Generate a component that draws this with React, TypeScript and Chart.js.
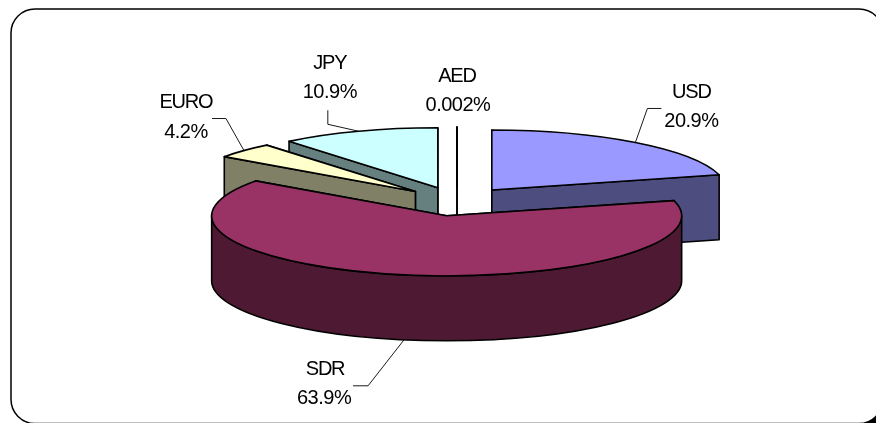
import React, { useEffect, useRef } from "react";
import { Chart, registerables } from "chart.js";

Chart.register(...registerables);

const categories = ["USD", "SDR", "EURO", "JPY", "AED"];
const shares = [20.9, 63.9, 4.2, 10.9, 0.002];
const topColors = ["#9999FF", "#993366", "#FFFFCC", "#CCFFFF", "#FFFFFF"];
const sideColors = ["#4D4D80", "#4D1933", "#808066", "#668080", "#808080"];

// Look of the tilted, exploded pie
const TILT = 0.2553;
const EXPLODE = 57;
const DEPTH = 65;
const RADIUS = 235;
const PAINT_ORDER = [3, 2, 4, 0, 1];
const FONT = '20px "Liberation Sans", Arial, sans-serif';

// label placement relative to each slice's rim mid-point
const LABEL_LAYOUT: Record<string, any> = {
  USD: { onSide: false, leader: [[12, -34], [26, -34]], name: [56, -50], value: [56, -21] },
  SDR: { onSide: true, leader: [[-36, 46], [-51, 46]], name: [-79, 30], value: [-80, 59] },
  EURO: { onSide: false, leader: [[-18, -32], [-32, -32]], name: [-58, -48], value: [-58, -18] },
  JPY: { onSide: false, leader: [[-31, -7], [-31, -21]], name: [-29, -68], value: [-29, -39] },
  AED: { onSide: false, leader: null, name: [0, -50], value: [1, -21] },
};

const pie3d = {
  id: "pie3d",
  beforeDraw(chart: any) {
    const ctx = chart.ctx;
    ctx.save();
    // the frame runs past the right and bottom edges of the picture
    ctx.fillStyle = "#000000";
    ctx.fillRect(858, 410, 18, 13);
    ctx.beginPath();
    ctx.roundRect(11, 9, 872, 414.5, 24);
    ctx.fillStyle = "#FFFFFF";
    ctx.fill();
    ctx.strokeStyle = "#000000";
    ctx.lineWidth = 1.5;
    ctx.stroke();
    ctx.restore();
  },
  beforeDatasetsDraw(chart: any) {
    const ctx = chart.ctx;
    const arcs = chart.getDatasetMeta(0).data;
    const geom = arcs.map((arc: any) => {
      const mid = (arc.startAngle + arc.endAngle) / 2;
      return {
        cx: arc.x + Math.cos(mid) * EXPLODE,
        cy: arc.y + Math.sin(mid) * EXPLODE * TILT,
        rx: arc.outerRadius,
        ry: arc.outerRadius * TILT,
        a0: arc.startAngle,
        a1: arc.endAngle,
        mid,
      };
    });
    const rim = (g: any, a: number) => [g.cx + Math.cos(a) * g.rx, g.cy + Math.sin(a) * g.ry];

    ctx.save();
    ctx.lineJoin = "round";
    ctx.strokeStyle = "#000000";
    ctx.lineWidth = 1.6;
    const paint = (fill: string) => {
      ctx.fillStyle = fill;
      ctx.fill();
      ctx.stroke();
    };

    for (const i of PAINT_ORDER) {
      const g = geom[i];
      const side = sideColors[i];
      // radial cut faces: those turned away from the viewer go first
      const faces = [
        { a: g.a0, front: Math.cos(g.a0) < 0 },
        { a: g.a1, front: Math.cos(g.a1) > 0 },
      ].sort((p, q) => Number(p.front) - Number(q.front));
      for (const f of faces) {
        const [px, py] = rim(g, f.a);
        ctx.beginPath();
        ctx.moveTo(g.cx, g.cy);
        ctx.lineTo(px, py);
        ctx.lineTo(px, py + DEPTH);
        ctx.lineTo(g.cx, g.cy + DEPTH);
        ctx.closePath();
        paint(side);
      }
      // outer wall, front half of the ellipse only
      const twoPi = Math.PI * 2;
      for (const k of [0, 1]) {
        const lo = Math.max(g.a0, k * twoPi);
        const hi = Math.min(g.a1, k * twoPi + Math.PI);
        if (hi > lo) {
          ctx.beginPath();
          ctx.ellipse(g.cx, g.cy, g.rx, g.ry, 0, lo, hi);
          ctx.ellipse(g.cx, g.cy + DEPTH, g.rx, g.ry, 0, hi, lo, true);
          ctx.closePath();
          paint(side);
        }
      }
      // top face
      ctx.beginPath();
      ctx.moveTo(g.cx, g.cy);
      ctx.ellipse(g.cx, g.cy, g.rx, g.ry, 0, g.a0, g.a1);
      ctx.closePath();
      paint(topColors[i]);
    }

    // labels
    ctx.font = FONT;
    ctx.textAlign = "center";
    ctx.textBaseline = "middle";
    ctx.fillStyle = "#000000";
    ctx.lineWidth = 0.9;
    categories.forEach((name, i) => {
      const layout = LABEL_LAYOUT[name];
      const [ax, ayTop] = rim(geom[i], geom[i].mid);
      const ay = ayTop + (layout.onSide ? DEPTH : 0);
      if (layout.leader) {
        ctx.beginPath();
        ctx.moveTo(ax, ay);
        for (const [dx, dy] of layout.leader) ctx.lineTo(ax + dx, ay + dy);
        ctx.stroke();
      }
      ctx.letterSpacing = "-1.2px";
      ctx.fillText(name, ax + layout.name[0], ay + layout.name[1]);
      ctx.letterSpacing = "-0.5px";
      ctx.fillText(`${shares[i]}%`, ax + layout.value[0], ay + layout.value[1]);
    });
    ctx.restore();
    return false;
  },
};

export default function App() {
  const ref = useRef<HTMLCanvasElement>(null);
  useEffect(() => {
    document.body.style.margin = "0";
    document.body.style.background = "#FFFFFF";
    const chart = new Chart(ref.current as HTMLCanvasElement, {
      type: "pie",
      data: {
        labels: categories,
        datasets: [
          {
            data: shares,
            backgroundColor: topColors,
            borderColor: "#000000",
            borderWidth: 1,
            radius: RADIUS,
          } as any,
        ],
      },
      options: {
        animation: false,
        responsive: false,
        layout: { padding: { left: 38, bottom: 20 } },
        plugins: { legend: { display: false }, tooltip: { enabled: false } },
      },
      plugins: [pie3d as any],
    });
    return () => chart.destroy();
  }, []);
  return <canvas ref={ref} width={876} height={423} style={{ display: "block" }} />;
}
